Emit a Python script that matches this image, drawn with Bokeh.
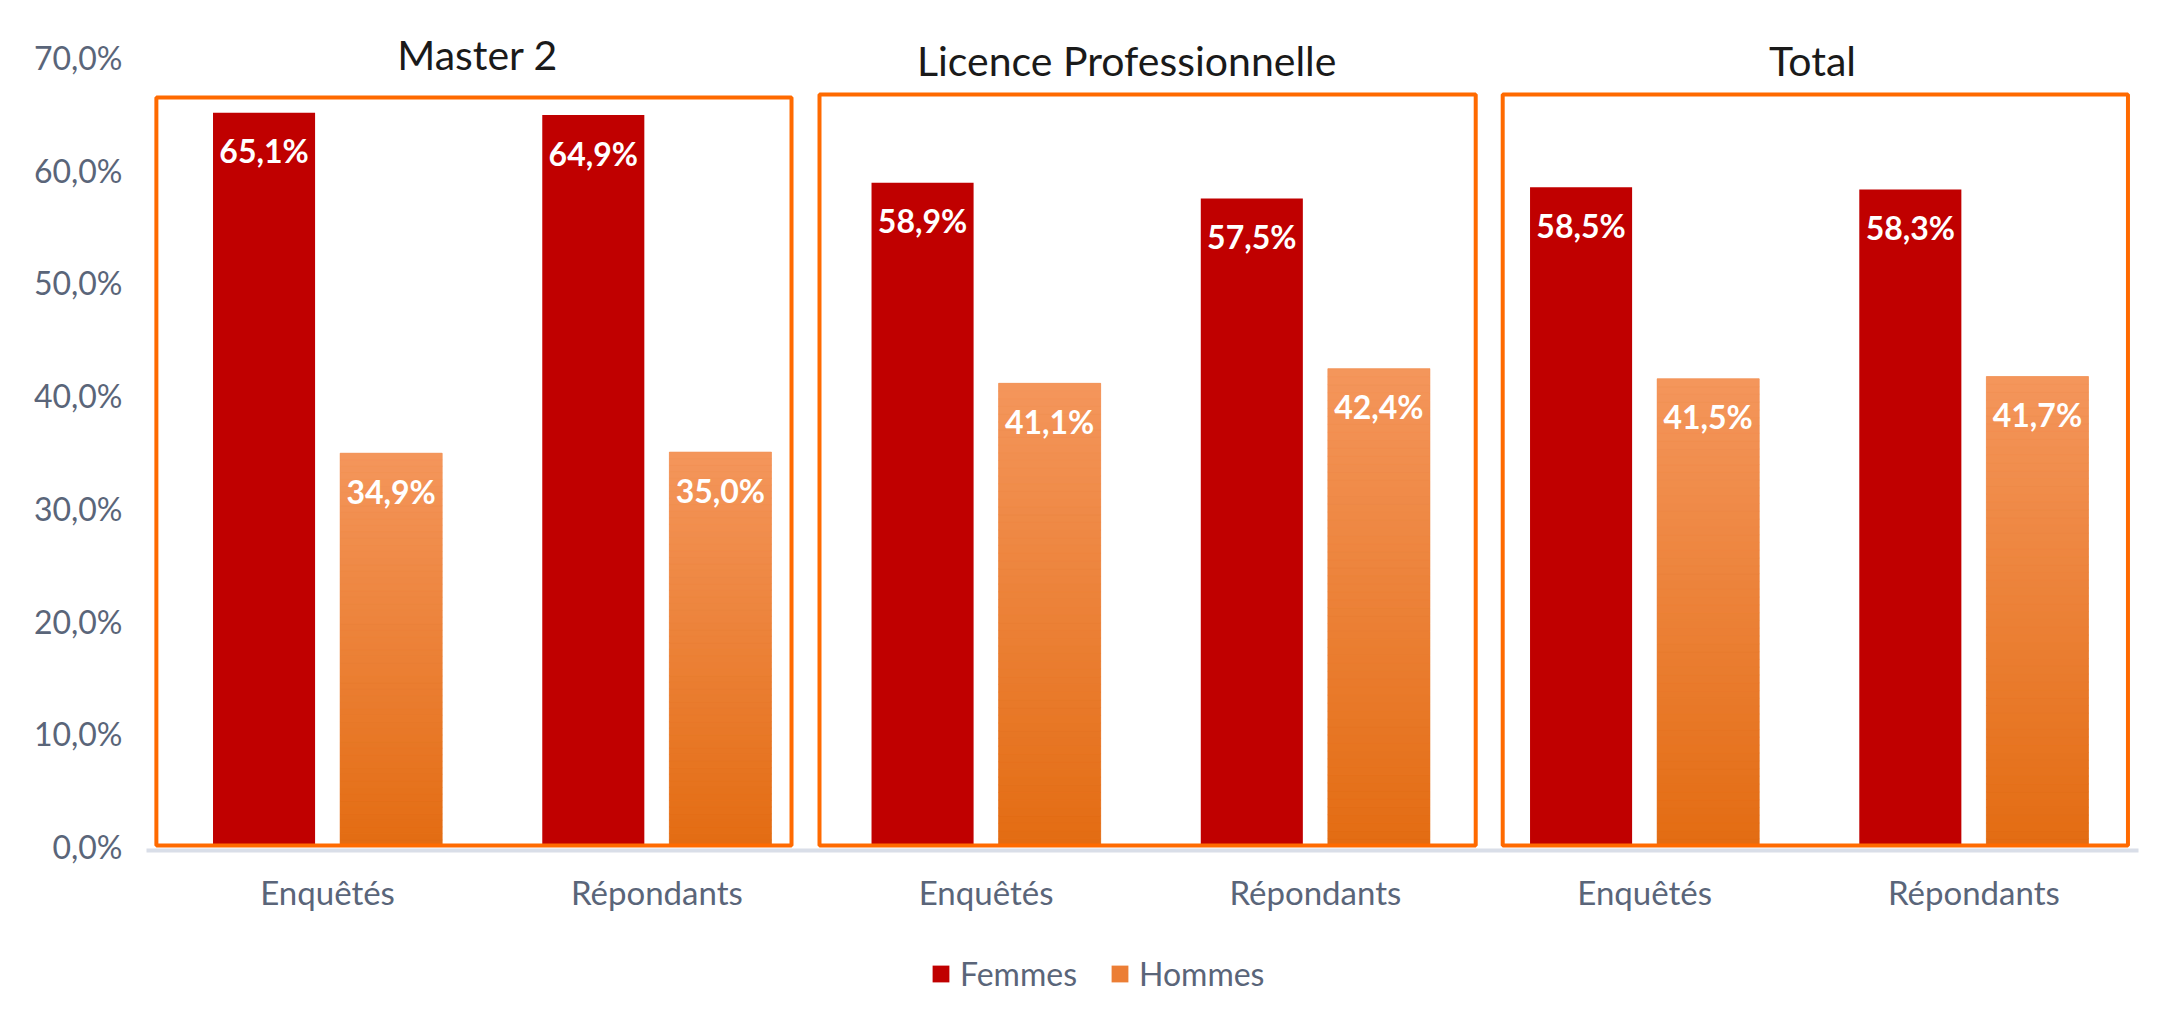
from bokeh.plotting import figure
from bokeh.layouts import column
from bokeh.models import (Range1d, FixedTicker, ColumnDataSource, LabelSet, Legend,
                          LegendItem, BoxAnnotation, CustomJSTickFormatter)
from bokeh.core.properties import value
from bokeh.embed import file_html
from bokeh.resources import INLINE

# ---------------- data ----------------
panels = ["Master 2", "Licence Professionnelle", "Total"]
categories = ["Enquêtés", "Répondants"]
series = ["Femmes", "Hommes"]
femmes = [65.1, 64.9, 58.9, 57.5, 58.5, 58.3]
hommes = [34.9, 35.0, 41.1, 42.4, 41.5, 41.7]
y_ticks = [0, 10, 20, 30, 40, 50, 60, 70]

# ---------------- style ----------------
FONT = "Lato"
RED = "#C00000"
OR_TOP = "#F4965C"
OR_BOT = "#E36C12"
OR_MID = "#EC7E35"
BOX = "#FF6A00"
TXT = "#5A6579"

n = len(femmes)
xc = [i + 0.5 for i in range(n)]
off, bw = 0.193, 0.31
xf = [x - off for x in xc]
xh = [x + off for x in xc]
lab_f = [f"{v:.1f}".replace(".", ",") + "%" for v in femmes]
lab_h = [f"{v:.1f}".replace(".", ",") + "%" for v in hommes]

p = figure(frame_width=1992, frame_height=830, output_backend="svg", toolbar_location=None,
           x_range=Range1d(-0.05, n), y_range=Range1d(-0.355, 73.29),
           min_border_left=146, min_border_right=20, min_border_top=20, min_border_bottom=75)
p.outline_line_color = None
p.xgrid.visible = False
p.ygrid.visible = False
p.background_fill_color = "white"
p.border_fill_color = "white"

# bars
src_f = ColumnDataSource(dict(x=xf, top=femmes, lab=lab_f))
src_h = ColumnDataSource(dict(x=xh, top=hommes, lab=lab_h))
rf = p.vbar(x="x", top="top", bottom=0, width=bw, source=src_f, fill_color=RED, line_color=None)
rh = p.vbar(x="x", top="top", bottom=0, width=bw, source=src_h, fill_color=OR_MID, line_color=None)

# vertical gradient on Hommes bars (slices computed from each bar's value)
def hex2rgb(h):
    return tuple(int(h[i:i + 2], 16) for i in (1, 3, 5))
c0, c1 = hex2rgb(OR_BOT), hex2rgb(OR_TOP)
N = 60
gx, gb, gt, gc = [], [], [], []
for x, v in zip(xh, hommes):
    for k in range(N):
        t = (k + 0.5) / N
        col = "#%02x%02x%02x" % tuple(round(a + (b - a) * t) for a, b in zip(c0, c1))
        gx.append(x); gb.append(v * k / N); gt.append(v * (k + 1) / N); gc.append(col)
p.vbar(x=gx, bottom=gb, top=gt, width=bw, fill_color=gc, line_color=gc, line_width=0.6)

# data labels
for src in (src_f, src_h):
    p.add_layout(LabelSet(x="x", y="top", text="lab", source=src, y_offset=-38,
                          text_align="center", text_baseline="middle", text_color="white",
                          text_font=value(FONT), text_font_style="bold", text_font_size="32px"))

# panel frames
box_specs = [(-0.02, 1.909, 66.46), (1.994, 3.987, 66.73), (4.069, 5.968, 66.73)]
for (l, r, t) in box_specs:
    p.add_layout(BoxAnnotation(left=l, right=r, bottom=0.09, top=t, fill_alpha=0,
                               line_color=BOX, line_alpha=1.0, line_width=4))

# panel titles
p.text(x=[0.956, 2.927, 5.01], y=[70.28, 69.75, 69.75], text=panels, text_align="center",
       text_baseline="alphabetic", text_font=value(FONT), text_font_size="41px",
       text_color="#1a1a1a")

# axes
p.yaxis.ticker = FixedTicker(ticks=y_ticks)
p.yaxis.formatter = CustomJSTickFormatter(code="return tick.toFixed(1).replace('.', ',') + '%';")
p.yaxis.axis_line_color = None
p.yaxis.major_tick_line_color = None
p.yaxis.minor_tick_line_color = None
p.yaxis.major_label_standoff = 18
p.yaxis.major_label_text_font = FONT
p.yaxis.major_label_text_font_size = "32px"
p.yaxis.major_label_text_color = TXT

p.xaxis.ticker = FixedTicker(ticks=xc)
p.xaxis.major_label_overrides = {x: categories[i % 2] for i, x in enumerate(xc)}
p.xaxis.axis_line_color = "#D9DEE8"
p.xaxis.axis_line_width = 4
p.xaxis.major_tick_line_color = None
p.xaxis.minor_tick_line_color = None
p.xaxis.major_label_standoff = 15
p.xaxis.major_label_text_font = FONT
p.xaxis.major_label_text_font_size = "33px"
p.xaxis.major_label_text_color = TXT

# legend strip (separate figure below the chart)
TOTAL_W = 146 + 1992 + 20
leg = figure(frame_width=TOTAL_W, frame_height=94, output_backend="svg", toolbar_location=None,
             x_range=Range1d(0, 1), y_range=Range1d(0, 1),
             x_axis_location=None, y_axis_location=None,
             min_border_left=0, min_border_right=0, min_border_top=0, min_border_bottom=0)
leg.outline_line_color = None
leg.xgrid.visible = False
leg.ygrid.visible = False
# legend swatches (zero-height bars, only used to draw the key)
lf = leg.vbar(x=[0.5], top=[0], bottom=0, width=0.01, fill_color=RED, line_color=None)
lh = leg.vbar(x=[0.5], top=[0], bottom=0, width=0.01, fill_color=OR_MID, line_color=None)
legend = Legend(items=[LegendItem(label=series[0], renderers=[lf]),
                       LegendItem(label=series[1], renderers=[lh])],
                orientation="horizontal", location=(930, 26),
                glyph_width=21, glyph_height=21, label_standoff=9, spacing=32,
                padding=0, margin=0, border_line_alpha=0, background_fill_alpha=0,
                label_text_font=FONT, label_text_font_size="32px", label_text_color=TXT,
                label_height=34)
leg.add_layout(legend, "center")

layout = column(p, leg, spacing=0)
open("out.html", "w").write(file_html(layout, INLINE))
